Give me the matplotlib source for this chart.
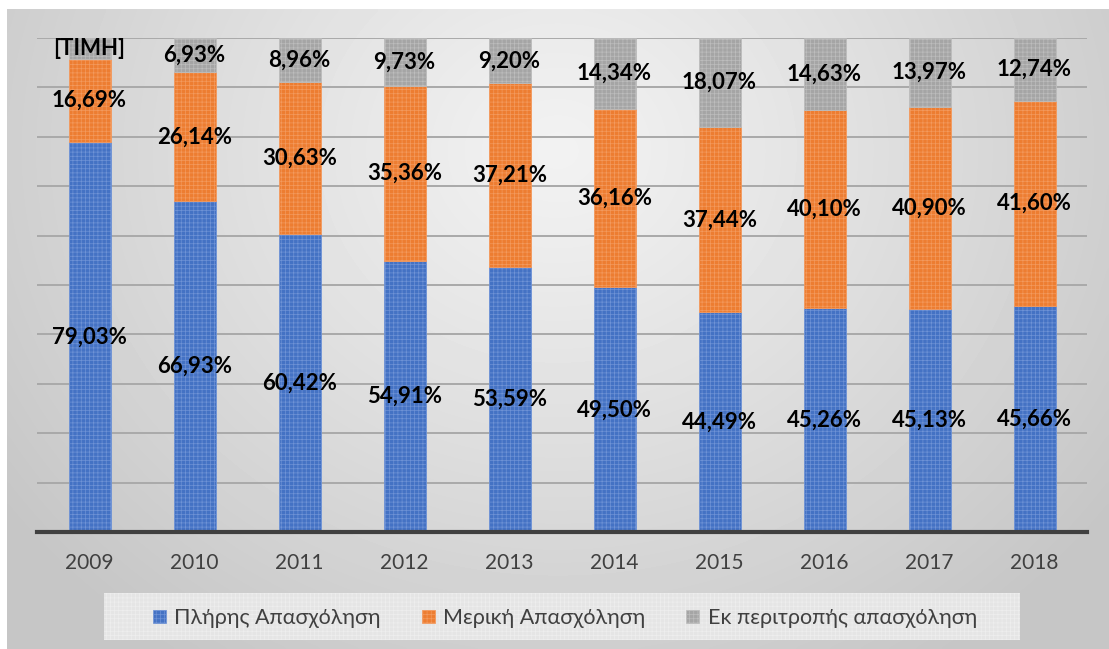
import numpy as np
import matplotlib
matplotlib.use("Agg")
import matplotlib.pyplot as plt
from matplotlib.patches import Patch, Rectangle

plt.rcParams['font.family'] = ['Lato', 'DejaVu Sans']
plt.rcParams['hatch.linewidth'] = 0.5

years = ['2009', '2010', '2011', '2012', '2013', '2014', '2015', '2016', '2017', '2018']
full_time = [79.03, 66.93, 60.42, 54.91, 53.59, 49.50, 44.49, 45.26, 45.13, 45.66]
part_time = [16.69, 26.14, 30.63, 35.36, 37.21, 36.16, 37.44, 40.10, 40.90, 41.60]
rotation = [4.28, 6.93, 8.96, 9.73, 9.20, 14.34, 18.07, 14.63, 13.97, 12.74]
rotation_labels = ['[ΤΙΜΗ]', '6,93%', '8,96%', '9,73%', '9,20%',
                   '14,34%', '18,07%', '14,63%', '13,97%', '12,74%']

series_names = ['Πλήρης Απασχόληση', 'Μερική Απασχόληση', 'Εκ περιτροπής απασχόληση']
colors = ['#4472C4', '#ED7D31', '#A5A5A5']
hatch_colors = ['#6f93d6', '#f39a5e', '#bdbdbd']

W, H = 1109, 649
fig = plt.figure(figsize=(W / 100, H / 100), dpi=100, facecolor='white')

# radial grey background of the chart area
bg = fig.add_axes([7 / W, 0, 1 - 7 / W, 1 - 9 / H])
ny, nx = 200, 340
yy, xx = np.mgrid[0:1:ny * 1j, 0:1:nx * 1j]
d = np.sqrt(((xx - 0.5) / 0.62) ** 2 + ((yy - 0.22) / 0.95) ** 2)
d = np.clip(d, 0, 1)
val = (0xf2 - (0xf2 - 0xc6) * d ** 1.1) / 255.0
bg.imshow(val, cmap='gray', vmin=0, vmax=1, aspect='auto',
          extent=[0, 1, 1, 0], interpolation='bicubic')
bg.set_axis_off()

ax = fig.add_axes([37 / W, 1 - 532 / H, (1087 - 37) / W, (532 - 38) / H])
ax.set_facecolor('none')
x = np.arange(len(years))
width = 0.4

bottoms = np.zeros(len(years))
stack = [full_time, part_time, rotation]
for vals, c, hc in zip(stack, colors, hatch_colors):
    ax.bar(x, vals, width, bottom=bottoms, color=c, edgecolor=hc,
           linewidth=0.6, hatch='++++', zorder=3)
    bottoms += np.array(vals)

# data labels centred in each segment
fmt = lambda v: f"{v:.2f}".replace('.', ',') + '%'
for i in range(len(years)):
    b = 0.0
    for k, vals in enumerate(stack):
        v = vals[i]
        txt = rotation_labels[i] if k == 2 else fmt(v)
        ax.text(x[i], b + v / 2, txt, ha='center', va='center',
                fontsize=16, fontweight='bold', color='black', zorder=5)
        b += v

ax.set_xlim(-0.5, len(years) - 0.5)
ax.set_ylim(0, 100)
ax.set_yticks(np.arange(10, 101, 10))
ax.yaxis.grid(True, color='#a9a9a9', linewidth=1.4, zorder=0)
ax.tick_params(axis='y', left=False, labelleft=False)
ax.set_xticks(x)
ax.set_xticklabels(years, fontsize=15, color='#404040')
ax.tick_params(axis='x', length=0, pad=15)
for s in ['left', 'right', 'top']:
    ax.spines[s].set_visible(False)
ax.spines['bottom'].set_color('#404040')
ax.spines['bottom'].set_linewidth(3)
ax.spines['bottom'].set_zorder(4)

# legend panel
panel = Rectangle((104 / W, 1 - 640 / H), (1020 - 104) / W, 47 / H,
                  transform=fig.transFigure, facecolor='#e5e5e5',
                  edgecolor='#eeeeee', hatch='++++', linewidth=0, zorder=1)
fig.patches.append(panel)

handles = [Patch(facecolor=c, edgecolor=hc, hatch='++++', linewidth=0.5)
           for c, hc in zip(colors, hatch_colors)]
leg = fig.legend(handles, series_names, loc='center',
                 bbox_to_anchor=(565 / W, 1 - 618 / H), ncol=3,
                 fontsize=15.5, frameon=False,
                 handlelength=0.6, handleheight=0.6, handletextpad=0.4,
                 columnspacing=1.9)
for t in leg.get_texts():
    t.set_color('#404040')

fig.savefig('out.png', dpi=100, facecolor='white')
